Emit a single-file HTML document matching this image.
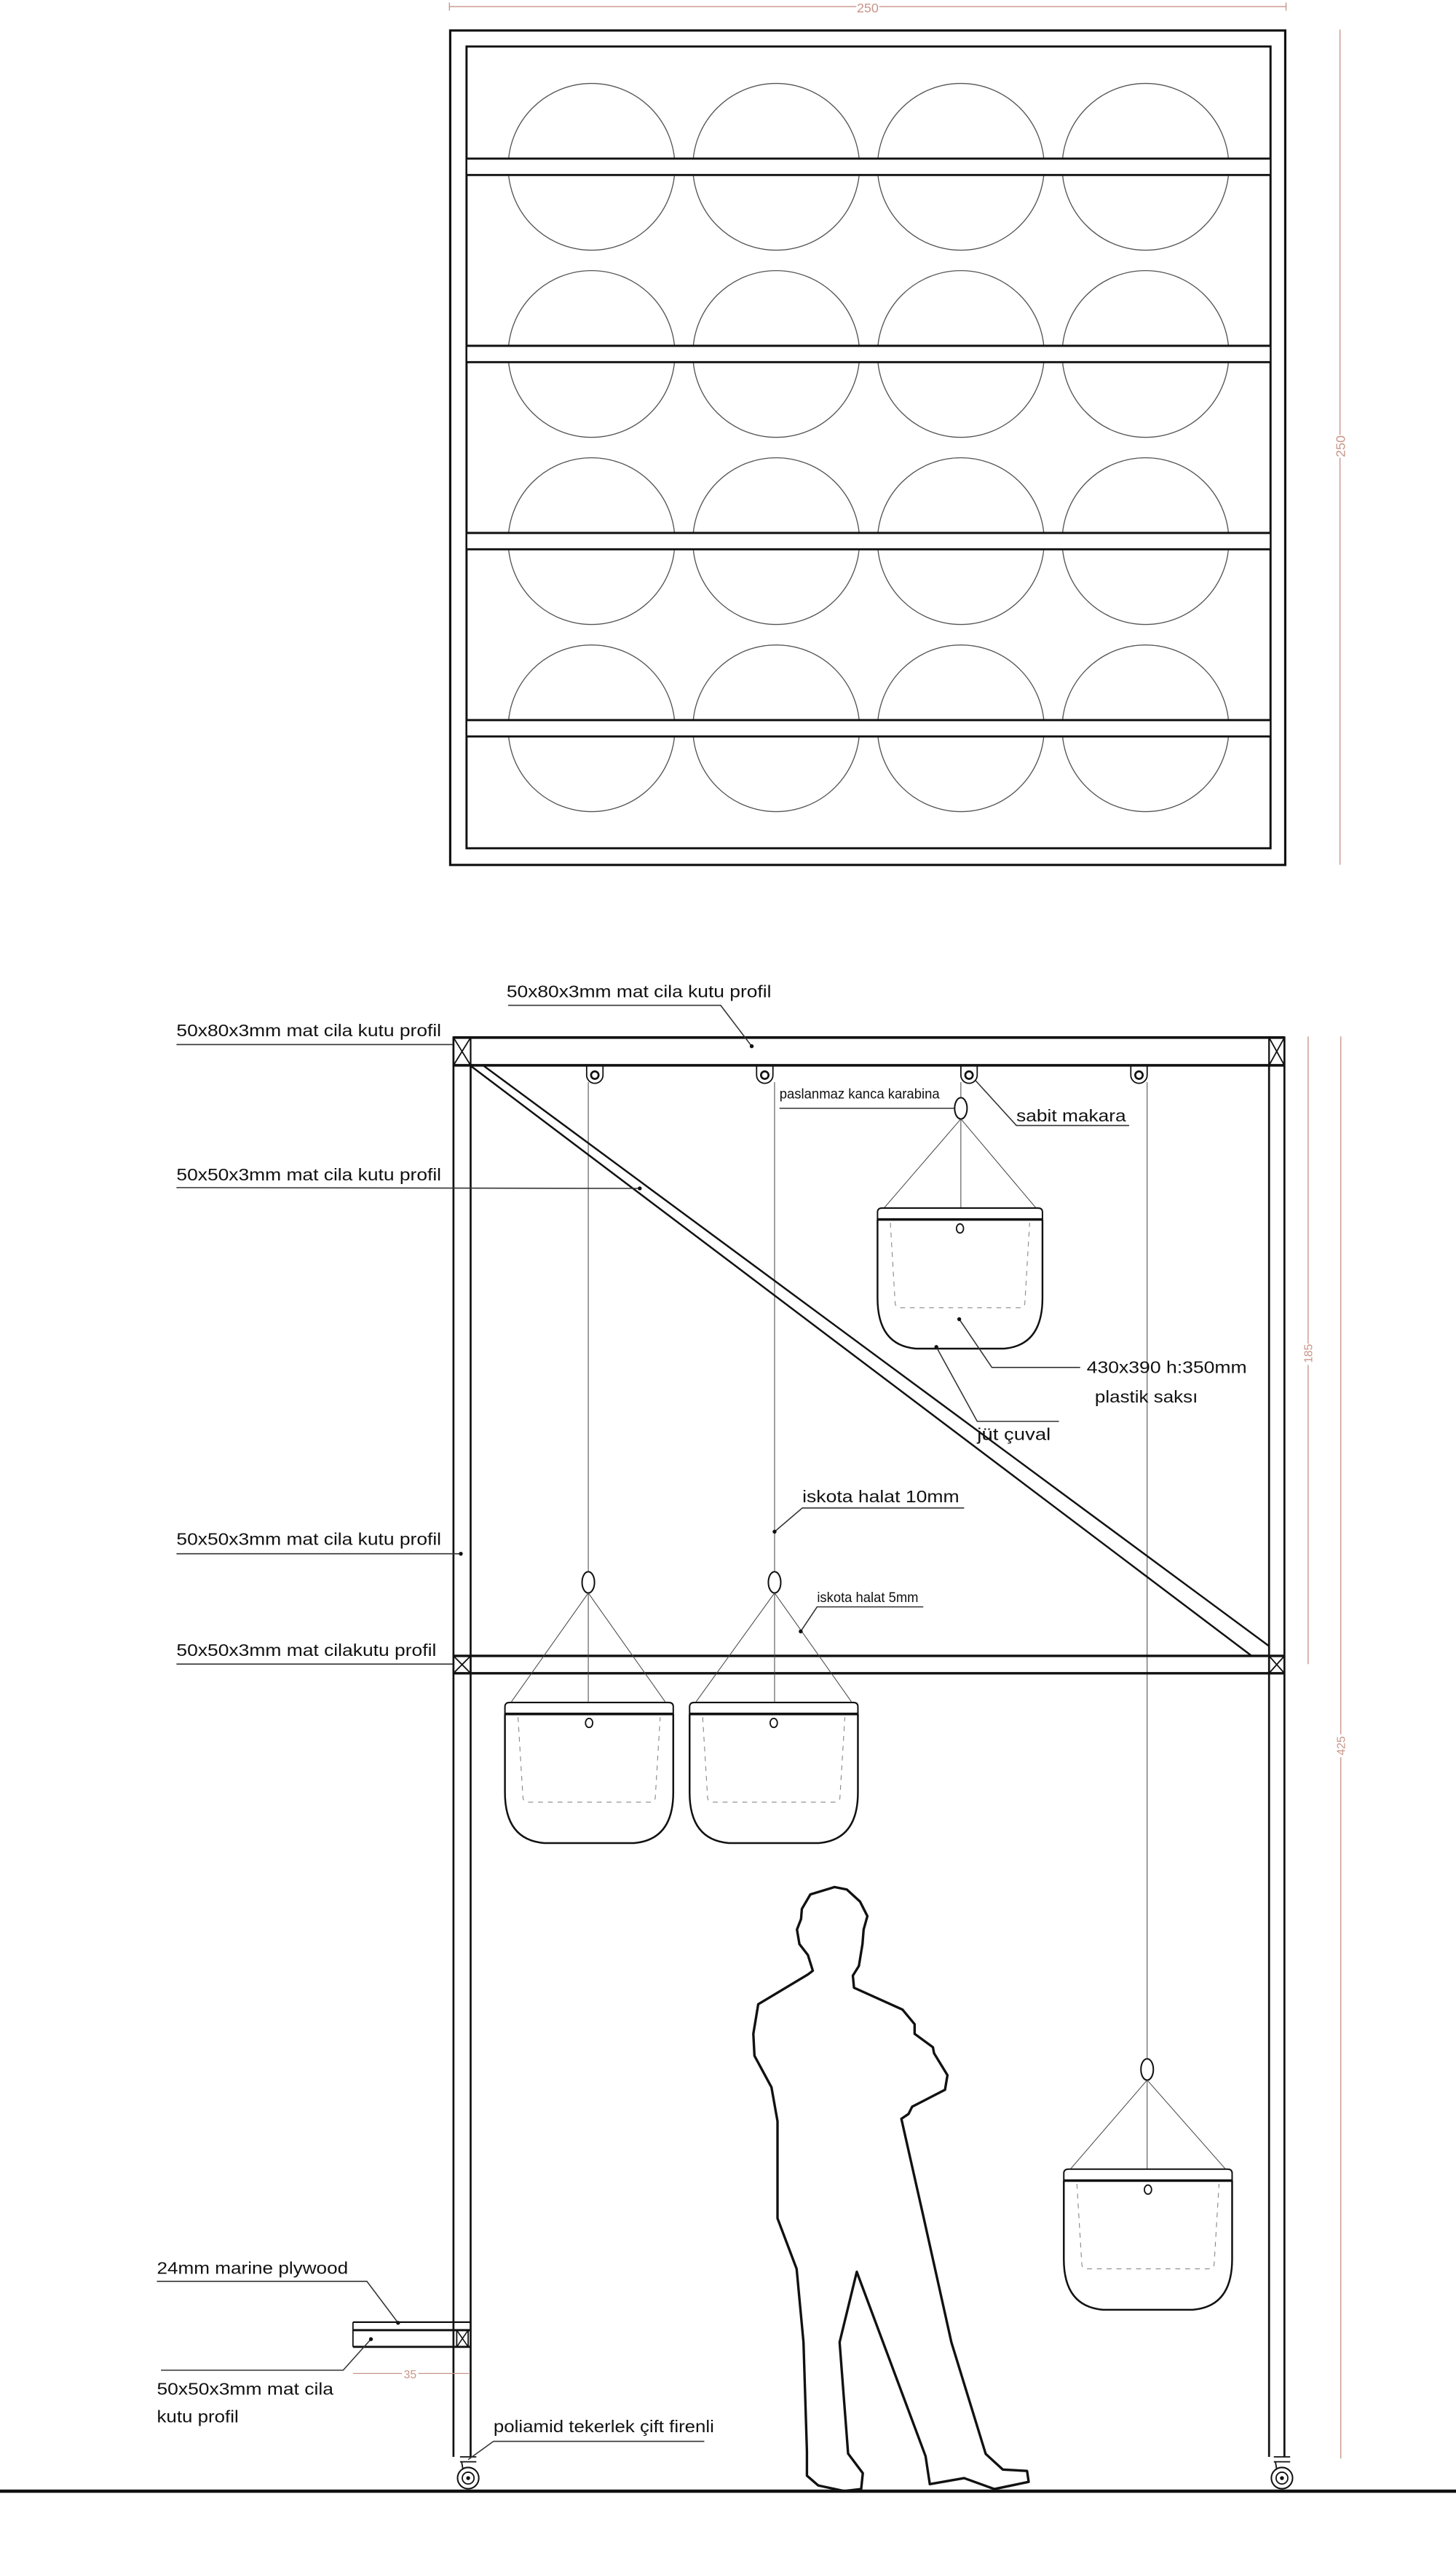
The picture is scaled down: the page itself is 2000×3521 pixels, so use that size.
<!DOCTYPE html>
<html><head><meta charset="utf-8">
<style>
html,body{margin:0;padding:0;background:#fff;}
svg{display:block;}
text{font-family:"Liberation Sans Narrow","Liberation Sans",sans-serif;fill:#111;}
.dim{fill:#c89488;}
</style></head>
<body>
<svg width="2000" height="3521" viewBox="0 0 891 1568.5" xmlns="http://www.w3.org/2000/svg">
<defs>
<g id="pot">
  <path d="M0,7 L0,2.5 Q0,0 3,0 L100,0 Q103,0 103,2.5 L103,7" fill="none" stroke="#111" stroke-width="0.9"/>
  <line x1="0" y1="7" x2="103" y2="7" stroke="#111" stroke-width="1.6"/>
  <path d="M0,7 L0,55 Q0,84 24,86 L79,86 Q103,84 103,55 L103,7" fill="none" stroke="#111" stroke-width="1.1"/>
  <path d="M8,9 L11,58 Q11,61 15,61 L88,61 Q92,61 92,58 L95,9" fill="none" stroke="#888" stroke-width="0.5" stroke-dasharray="3,3"/>
  <ellipse cx="51.5" cy="12.5" rx="2.2" ry="2.8" fill="none" stroke="#111" stroke-width="0.8"/>
</g>
<g id="pulley">
  <path d="M-5,0 L-5,6 A5,5 0 0 0 5,6 L5,0" fill="none" stroke="#111" stroke-width="0.8"/>
  <circle cx="0" cy="6" r="2.3" fill="none" stroke="#111" stroke-width="1.2"/>
</g>
<g id="wheel">
  <line x1="-5" y1="-13" x2="5" y2="-13" stroke="#111" stroke-width="0.8"/>
  <line x1="-5" y1="-10" x2="5" y2="-10" stroke="#111" stroke-width="0.8"/>
  <path d="M-4,-10 L-3,-4" stroke="#111" stroke-width="0.8"/>
  <circle cx="0" cy="0" r="6.5" fill="#fff" stroke="#111" stroke-width="0.9"/>
  <circle cx="0" cy="0" r="3.6" fill="none" stroke="#111" stroke-width="0.8"/>
  <circle cx="0" cy="0" r="1.2" fill="#111"/>
</g>
</defs>

<!-- ========== TOP ELEVATION ========== -->
<line x1="275" y1="4" x2="524" y2="4" stroke="#c89488" stroke-width="0.6"/>
<line x1="538" y1="4" x2="787" y2="4" stroke="#c89488" stroke-width="0.6"/>
<line x1="275" y1="1.5" x2="275" y2="6.5" stroke="#c89488" stroke-width="0.6"/>
<line x1="787" y1="1.5" x2="787" y2="6.5" stroke="#c89488" stroke-width="0.6"/>
<text class="dim" x="531" y="7.5" font-size="8" text-anchor="middle">250</text>

<line x1="820" y1="18" x2="820" y2="266" stroke="#c89488" stroke-width="0.6"/>
<line x1="820" y1="280" x2="820" y2="529" stroke="#c89488" stroke-width="0.6"/>
<text class="dim" x="0" y="0" font-size="8" text-anchor="middle" transform="translate(823,273) rotate(-90)">250</text>

<rect x="275.5" y="18.6" width="511" height="510.5" fill="none" stroke="#111" stroke-width="1.4"/>
<rect x="285.5" y="28.4" width="492" height="490.5" fill="none" stroke="#111" stroke-width="1.3"/>

<g fill="none" stroke="#555" stroke-width="0.6">
  <circle cx="362" cy="102" r="51"/><circle cx="475" cy="102" r="51"/><circle cx="588" cy="102" r="51"/><circle cx="701" cy="102" r="51"/>
  <circle cx="362" cy="216.5" r="51"/><circle cx="475" cy="216.5" r="51"/><circle cx="588" cy="216.5" r="51"/><circle cx="701" cy="216.5" r="51"/>
  <circle cx="362" cy="331" r="51"/><circle cx="475" cy="331" r="51"/><circle cx="588" cy="331" r="51"/><circle cx="701" cy="331" r="51"/>
  <circle cx="362" cy="445.5" r="51"/><circle cx="475" cy="445.5" r="51"/><circle cx="588" cy="445.5" r="51"/><circle cx="701" cy="445.5" r="51"/>
</g>
<g stroke="#111" stroke-width="1.3">
  <rect x="286" y="97" width="491" height="10" fill="#fff" stroke="none"/>
  <line x1="285.5" y1="97" x2="777.5" y2="97"/><line x1="285.5" y1="107" x2="777.5" y2="107"/>
  <rect x="286" y="211.5" width="491" height="10" fill="#fff" stroke="none"/>
  <line x1="285.5" y1="211.5" x2="777.5" y2="211.5"/><line x1="285.5" y1="221.5" x2="777.5" y2="221.5"/>
  <rect x="286" y="326" width="491" height="10" fill="#fff" stroke="none"/>
  <line x1="285.5" y1="326" x2="777.5" y2="326"/><line x1="285.5" y1="336" x2="777.5" y2="336"/>
  <rect x="286" y="440.5" width="491" height="10" fill="#fff" stroke="none"/>
  <line x1="285.5" y1="440.5" x2="777.5" y2="440.5"/><line x1="285.5" y1="450.5" x2="777.5" y2="450.5"/>
</g>

<!-- ========== SIDE ELEVATION ========== -->
<!-- ropes -->
<g stroke="#444" stroke-width="0.45">
  <line x1="360" y1="662" x2="360" y2="961"/>
  <line x1="474" y1="662" x2="474" y2="961"/>
  <line x1="588" y1="662" x2="588" y2="671"/>
  <line x1="702" y1="662" x2="702" y2="1259"/>
</g>

<!-- posts -->
<g stroke="#111" stroke-width="1.2">
  <line x1="277.5" y1="634" x2="277.5" y2="1503"/>
  <line x1="288" y1="652" x2="288" y2="1503"/>
  <line x1="776.6" y1="652" x2="776.6" y2="1503"/>
  <line x1="786" y1="634" x2="786" y2="1503"/>
</g>
<!-- top beam -->
<g stroke="#111">
  <line x1="277.5" y1="634.7" x2="786" y2="634.7" stroke-width="1.6"/>
  <line x1="277.5" y1="651.7" x2="786" y2="651.7" stroke-width="1.6"/>
  <rect x="277.5" y="634.7" width="10.5" height="17" fill="none" stroke-width="1"/>
  <path d="M277.5,634.7 L288,651.7 M288,634.7 L277.5,651.7" stroke-width="0.8"/>
  <rect x="776.6" y="634.7" width="9.4" height="17" fill="none" stroke-width="1"/>
  <path d="M776.6,634.7 L786,651.7 M786,634.7 L776.6,651.7" stroke-width="0.8"/>
</g>
<!-- diagonal -->
<g stroke="#111" stroke-width="1.1">
  <line x1="288" y1="652" x2="766" y2="1013"/>
  <line x1="296" y1="652" x2="776.6" y2="1007"/>
</g>
<!-- middle beam -->
<g stroke="#111">
  <line x1="277.5" y1="1013" x2="786" y2="1013" stroke-width="1.5"/>
  <line x1="277.5" y1="1023.6" x2="786" y2="1023.6" stroke-width="1.5"/>
  <rect x="277.5" y="1013" width="10.5" height="10.6" fill="none" stroke-width="1"/>
  <path d="M277.5,1013 L288,1023.6 M288,1013 L277.5,1023.6" stroke-width="0.8"/>
  <rect x="776.6" y="1013" width="9.4" height="10.6" fill="none" stroke-width="1"/>
  <path d="M776.6,1013 L786,1023.6 M786,1013 L776.6,1023.6" stroke-width="0.8"/>
</g>

<!-- pulleys -->
<use href="#pulley" x="364" y="651.7"/>
<use href="#pulley" x="468" y="651.7"/>
<use href="#pulley" x="593" y="651.7"/>
<use href="#pulley" x="697" y="651.7"/>

<!-- rings -->
<g fill="#fff" stroke="#111" stroke-width="0.9">
  <ellipse cx="588" cy="678" rx="3.8" ry="6.5"/>
  <ellipse cx="360" cy="968" rx="3.8" ry="6.5"/>
  <ellipse cx="474" cy="968" rx="3.8" ry="6.5"/>
  <ellipse cx="702" cy="1266" rx="3.8" ry="6.5"/>
</g>
<!-- strings to pots -->
<g stroke="#444" stroke-width="0.45">
  <path d="M588,684.5 L541,739 M588,684.5 L634,739 M588,684.5 L588,739"/>
  <path d="M360,974.5 L313,1041 M360,974.5 L407,1041 M360,974.5 L360,1041"/>
  <path d="M474,974.5 L426,1041 M474,974.5 L521,1041 M474,974.5 L474,1041"/>
  <path d="M702,1272.5 L655,1327 M702,1272.5 L750,1327 M702,1272.5 L702,1327"/>
</g>
<!-- pots -->
<use href="#pot" transform="translate(537,739) scale(0.98,1)"/>
<use href="#pot" transform="translate(309,1041.5)"/>
<use href="#pot" transform="translate(422,1041.5)"/>
<use href="#pot" transform="translate(651,1327)"/>

<!-- person -->
<path d="M510.7,1154.4 L518.2,1155.9 L526.3,1163.3 L530.8,1172.2 L528.5,1180.4 L527.8,1189.3 L525.6,1202.7 L521.9,1208.6 L522.6,1216 L552.3,1229.4 L559.7,1238.3 L559.7,1244.2 L570.9,1252.4 L571.6,1256.1 L579.8,1269.5 L578.3,1278.4 L558.2,1288.8 L556,1293.2 L551.6,1296.2 L565,1355.6 L582.2,1432.9 L603.2,1501.2 L613.7,1510.8 L628.5,1511.6 L629.5,1518.3 L608.5,1522.7 L590,1516 L569,1519.7 L566.4,1502.6 L524.3,1389.8 L513.8,1432.9 L519,1501 L528,1513 L527,1522.7 L516.5,1523.9 L500.7,1520.5 L493.8,1514.5 L493.8,1499.7 L491.7,1432.9 L487.5,1388 L475.8,1357.1 L475.8,1297.7 L472.1,1276.9 L461.7,1257.6 L461,1244.2 L464,1226.1 L494.4,1207.9 L497.4,1205.6 L494.4,1196 L489.2,1189.3 L487.7,1180.4 L490.2,1174 L490.7,1167.8 L495.9,1158.9 Z" fill="#fff" stroke="#111" stroke-width="1.5" stroke-linejoin="round"/>

<!-- plywood shelf -->
<g stroke="#111">
  <line x1="216" y1="1420.6" x2="288" y2="1420.6" stroke-width="1"/>
  <line x1="216" y1="1425.5" x2="288" y2="1425.5" stroke-width="1.3"/>
  <line x1="216" y1="1435.7" x2="288" y2="1435.7" stroke-width="1.3"/>
  <line x1="216" y1="1420.6" x2="216" y2="1435.7" stroke-width="0.8"/>
  <rect x="279.5" y="1425.5" width="7" height="10.2" fill="none" stroke-width="0.8"/>
  <path d="M279.5,1425.5 L286.5,1435.7 M286.5,1425.5 L279.5,1435.7" stroke-width="0.7"/>
</g>
<!-- dim 35 -->
<line x1="216" y1="1452" x2="246" y2="1452" stroke="#c89488" stroke-width="0.6"/>
<line x1="256" y1="1452" x2="287" y2="1452" stroke="#c89488" stroke-width="0.6"/>
<text class="dim" x="251" y="1455" font-size="7" text-anchor="middle">35</text>

<!-- wheels -->
<use href="#wheel" x="286.5" y="1516"/>
<use href="#wheel" x="784.5" y="1516"/>

<!-- ground -->
<line x1="0" y1="1524" x2="891" y2="1524" stroke="#111" stroke-width="2"/>

<!-- right dimensions -->
<line x1="800.5" y1="634" x2="800.5" y2="822" stroke="#c89488" stroke-width="0.6"/>
<line x1="800.5" y1="835" x2="800.5" y2="1018" stroke="#c89488" stroke-width="0.6"/>
<text class="dim" x="0" y="0" font-size="7" text-anchor="middle" transform="translate(803,828) rotate(-90)">185</text>
<line x1="820.5" y1="634" x2="820.5" y2="1061" stroke="#c89488" stroke-width="0.6"/>
<line x1="820.5" y1="1075" x2="820.5" y2="1504" stroke="#c89488" stroke-width="0.6"/>
<text class="dim" x="0" y="0" font-size="7" text-anchor="middle" transform="translate(823,1068) rotate(-90)">425</text>

<!-- ========== LABELS & LEADERS ========== -->
<g stroke="#333" stroke-width="0.7" fill="none">
  <path d="M311,615 L441,615 L460,640"/>
  <path d="M108,639 L277,639"/>
  <path d="M108,726.5 L391.5,727"/>
  <path d="M477,678 L584,678"/>
  <path d="M691,688.5 L622,688.5 L597,661"/>
  <path d="M661,836.5 L607,836.5 L587,807"/>
  <path d="M648,869.5 L598,869.5 L573,824"/>
  <path d="M108,950.5 L282,950.5"/>
  <path d="M590,922.5 L491,922.5 L474,937"/>
  <path d="M565,983 L500,983 L490,998"/>
  <path d="M108,1018 L277,1018"/>
  <path d="M96,1395.6 L224.5,1395.6 L243.6,1421"/>
  <path d="M98.5,1450 L210,1450 L227,1431"/>
  <path d="M431,1493.5 L302,1493.5 L286.5,1504.7"/>
</g>
<g fill="#111">
  <circle cx="460" cy="640" r="1.2"/><circle cx="391.5" cy="727" r="1.2"/>
  <circle cx="587" cy="807" r="1.2"/><circle cx="573" cy="824" r="1.2"/>
  <circle cx="282" cy="950.5" r="1.2"/><circle cx="474" cy="937" r="1.2"/>
  <circle cx="490" cy="998" r="1.2"/><circle cx="243.6" cy="1421" r="1.2"/>
  <circle cx="227" cy="1431" r="1.2"/>
</g>

<text x="310" y="610" font-size="10.5" textLength="162" lengthAdjust="spacingAndGlyphs">50x80x3mm mat cila kutu profil</text>
<text x="108" y="634" font-size="10.5" textLength="162" lengthAdjust="spacingAndGlyphs">50x80x3mm mat cila kutu profil</text>
<text x="108" y="722" font-size="10.5" textLength="162" lengthAdjust="spacingAndGlyphs">50x50x3mm mat cila kutu profil</text>
<text x="477" y="672" font-size="8.5" textLength="98" lengthAdjust="spacingAndGlyphs">paslanmaz kanca karabina</text>
<text x="622" y="686" font-size="10.5" textLength="67" lengthAdjust="spacingAndGlyphs">sabit makara</text>
<text x="665" y="840" font-size="10.5" textLength="98" lengthAdjust="spacingAndGlyphs">430x390 h:350mm</text>
<text x="670" y="858" font-size="10.5" textLength="63" lengthAdjust="spacingAndGlyphs">plastik saksı</text>
<text x="598" y="881" font-size="10.5" textLength="45" lengthAdjust="spacingAndGlyphs">jüt çuval</text>
<text x="108" y="945" font-size="10.5" textLength="162" lengthAdjust="spacingAndGlyphs">50x50x3mm mat cila kutu profil</text>
<text x="491" y="919" font-size="10.5" textLength="96" lengthAdjust="spacingAndGlyphs">iskota halat 10mm</text>
<text x="500" y="980" font-size="8.5" textLength="62" lengthAdjust="spacingAndGlyphs">iskota halat 5mm</text>
<text x="108" y="1013" font-size="10.5" textLength="159" lengthAdjust="spacingAndGlyphs">50x50x3mm mat cilakutu profil</text>
<text x="96" y="1391" font-size="10.5" textLength="117" lengthAdjust="spacingAndGlyphs">24mm marine plywood</text>
<text x="96" y="1465" font-size="10.5" textLength="108" lengthAdjust="spacingAndGlyphs">50x50x3mm mat cila</text>
<text x="96" y="1482" font-size="10.5" textLength="50" lengthAdjust="spacingAndGlyphs">kutu profil</text>
<text x="302" y="1488" font-size="10.5" textLength="135" lengthAdjust="spacingAndGlyphs">poliamid tekerlek çift firenli</text>
</svg>
</body></html>
